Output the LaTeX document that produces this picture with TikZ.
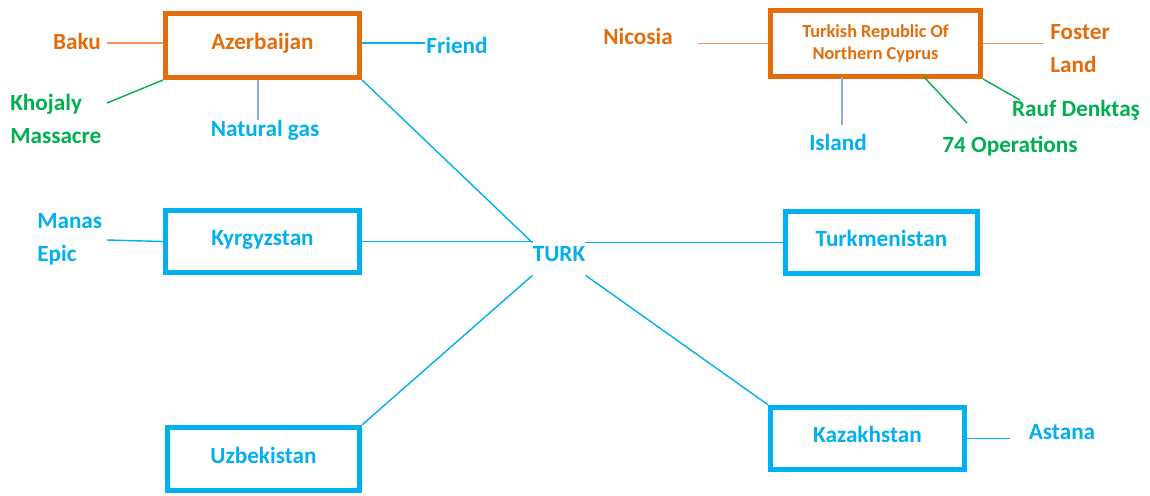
\documentclass[tikz,border=0pt]{standalone}
\usepackage{fontspec}
\setmainfont{Carlito}
\usepackage{xcolor}
\usepackage{tikz}
\definecolor{turkorange}{RGB}{228, 108, 10}
\definecolor{turkblue}{RGB}{0, 176, 240}
\definecolor{turkgreen}{RGB}{0, 176, 80}
\definecolor{linkorange}{RGB}{240, 150, 90}
\definecolor{linkpurple}{RGB}{143, 170, 220}

\begin{document}
\begin{tikzpicture}[
        x=0.025cm, y=-0.025cm,
        boxframe/.style={rectangle, draw=turkblue, line width=3.6pt, minimum width=4.8cm, minimum height=1.56cm, fill=white, text=turkblue},
        country/.style={boxframe, text height=11pt, text depth=5pt, font=\fontsize{16.5}{20}\selectfont\bfseries},
        orangebox/.style={draw=turkorange, text=turkorange},
        fact/.style={inner sep=0pt, align=left, font=\fontsize{16.5}{23.5}\selectfont\bfseries},
        link/.style={line width=1pt, color=turkblue},
        orangelink/.style={line width=1pt, color=linkorange},
        greenlink/.style={line width=1pt, color=turkgreen}
    ]
    \useasboundingbox (0,0) rectangle (1150,495);

    % Center
    \node[text=turkblue, font=\fontsize{16.5}{20}\selectfont\bfseries, minimum width=1.2cm, minimum height=0.8cm, text height=11pt, text depth=7pt, inner sep=0pt] (turk) at (559,259) {TURK};

    % Countries
    \node[country, orangebox, minimum width=4.85cm, minimum height=1.6cm] (azer) at (262.5,45.5) {Azerbaijan};
    \node[country, minimum width=4.85cm] (kyrg) at (262.5,241.5) {Kyrgyzstan};
    \node[country, minimum height=1.58cm] (uzb) at (263.5,459) {Uzbekistan};
    \node[country] (turkm) at (881.5,242.5) {Turkmenistan};
    \node[country, minimum width=4.85cm] (kaz) at (867.5,438.5) {Kazakhstan};
    \node[boxframe, orangebox, minimum width=5.25cm, minimum height=1.65cm, align=center, font=\fontsize{13}{16}\selectfont\bfseries] (trnc) at (875.5,43.5) {Turkish Republic Of\\ Northern Cyprus};

    % Facts
    \node[fact, text=turkorange] (baku) at (77,41) {Baku};
    \node[fact, text=turkblue] (friend) at (457,45) {Friend};
    \node[fact, text=turkgreen, anchor=west] (khojaly) at (10,119) {Khojaly\\ Massacre};
    \node[fact, text=turkblue] (natgas) at (265,130) {Natural gas};
    \node[fact, text=turkblue, anchor=west] (manas) at (37,239) {Manas\\ Epic};
    \node[fact, text=turkorange] (nicosia) at (638,36) {Nicosia};
    \node[fact, text=turkorange, anchor=west] (foster) at (1050,49) {Foster\\ Land};
    \node[fact, text=turkblue] (island) at (838,142) {Island};
    \node[fact, text=turkgreen] (ops) at (1010,146) {74 Operations};
    \node[fact, text=turkgreen] (rauf) at (1076,110) {Rauf Denktaş};
    \node[fact, text=turkblue] (astana) at (1062,432) {Astana};

    % Line ends
    \coordinate (baku-end) at (107,43);
    \coordinate (friend-end) at (425,43);
    \coordinate (khojaly-end) at (107,103);
    \coordinate (manas-end) at (107,240);
    \coordinate (nicosia-end) at (698,43.5);
    \coordinate (foster-end) at (1043,43.5);
    \coordinate (island-top) at (842,77);
    \coordinate (island-end) at (842,125);
    \coordinate (ops-top) at (924,77);
    \coordinate (ops-end) at (967,123);
    \coordinate (rauf-end) at (1020,100);
    \coordinate (astana-end) at (1010,438.5);

    % Links to TURK
    \draw[link] (azer.south east) -- (turk.north west);
    \draw[link] (kyrg.east) -- (kyrg.east -| turk.north west);
    \draw[link] (turk.north east |- turkm.west) -- (turkm.west);
    \draw[link] (turk.south west) -- (uzb.north east);
    \draw[link] (turk.south east) -- (kaz.north west);

    % Links to facts
    \draw[orangelink] (baku-end) -- (azer.west |- baku-end);
    \draw[link] (azer.east |- friend-end) -- (friend-end);
    \draw[greenlink] (khojaly-end) -- (azer.south west);
    \draw[line width=1pt, color=linkpurple] (azer.south -| 258,0) -- (natgas.north -| 258,0);
    \draw[link] (manas-end) -- (kyrg.west);
    \draw[orangelink] (nicosia-end) -- (trnc.west);
    \draw[orangelink] (trnc.east) -- (foster-end);
    \draw[line width=1pt, color=linkpurple] (island-top) -- (island-end);
    \draw[greenlink] (ops-top) -- (ops-end);
    \draw[greenlink] (trnc.south east) -- (rauf-end);
    \draw[link] (kaz.east) -- (astana-end);

\end{tikzpicture}
\end{document}
